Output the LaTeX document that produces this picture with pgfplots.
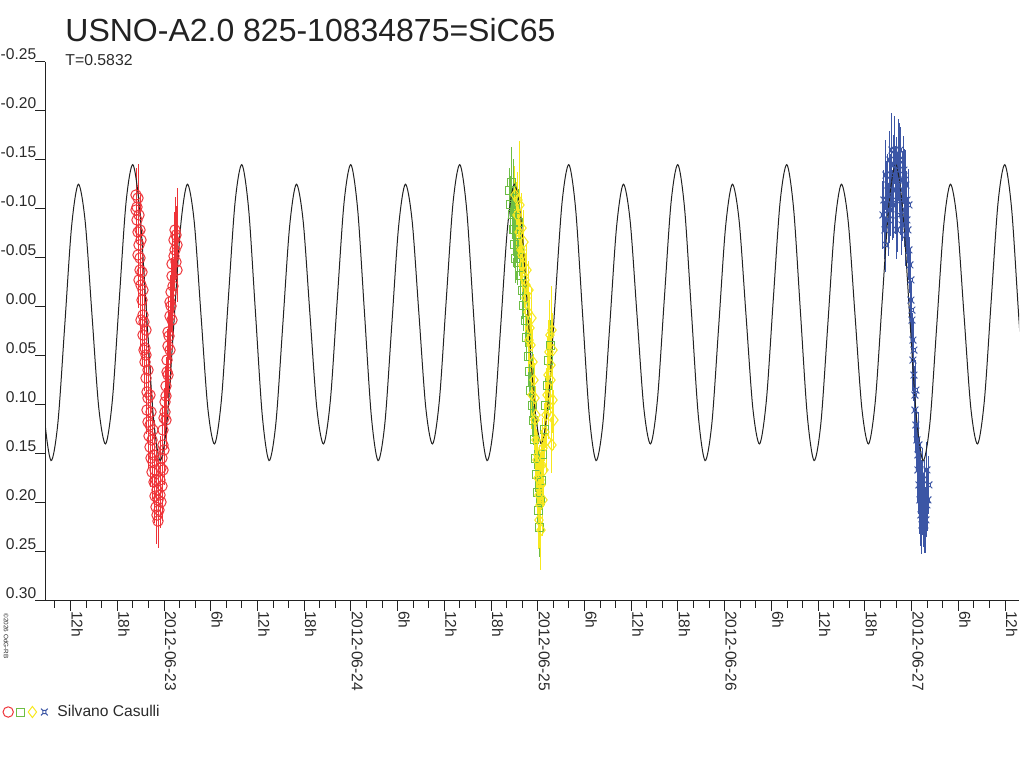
\documentclass[border=0pt]{standalone}
\usepackage{pgfplots}
\usepackage{pgfplotstable}
\pgfplotsset{compat=1.18}
\usepackage{fontspec}
\setmainfont{Liberation Sans}
\definecolor{cred}{HTML}{EE3338}
\definecolor{cgreen}{HTML}{6DBE45}
\definecolor{cyellow}{HTML}{F7E81E}
\definecolor{cblue}{HTML}{3C56A5}
\definecolor{axcol}{HTML}{222222}
\definecolor{labcol}{HTML}{2A2A2A}
\pgfdeclareplotmark{curr}{%
  \pgfpathrectangle{\pgfqpoint{-0.45\pgfplotmarksize}{-0.45\pgfplotmarksize}}{\pgfqpoint{0.9\pgfplotmarksize}{0.9\pgfplotmarksize}}%
  \pgfpathmoveto{\pgfqpoint{0.45\pgfplotmarksize}{0.45\pgfplotmarksize}}\pgfpathlineto{\pgfqpoint{\pgfplotmarksize}{\pgfplotmarksize}}%
  \pgfpathmoveto{\pgfqpoint{-0.45\pgfplotmarksize}{0.45\pgfplotmarksize}}\pgfpathlineto{\pgfqpoint{-\pgfplotmarksize}{\pgfplotmarksize}}%
  \pgfpathmoveto{\pgfqpoint{0.45\pgfplotmarksize}{-0.45\pgfplotmarksize}}\pgfpathlineto{\pgfqpoint{\pgfplotmarksize}{-\pgfplotmarksize}}%
  \pgfpathmoveto{\pgfqpoint{-0.45\pgfplotmarksize}{-0.45\pgfplotmarksize}}\pgfpathlineto{\pgfqpoint{-\pgfplotmarksize}{-\pgfplotmarksize}}%
  \pgfusepathqstroke}

\pgfplotstableread{
x y
-0.6771 0.0057
-0.6407 0.1110
-0.6042 0.1570
-0.5678 0.1187
-0.5313 0.0198
-0.4949 -0.0810
-0.4584 -0.1250
-0.4220 -0.0875
-0.3855 0.0078
-0.3491 0.1030
-0.3126 0.1400
-0.2762 0.0953
-0.2397 -0.0063
-0.2033 -0.1060
-0.1668 -0.1450
-0.1304 -0.0995
-0.0939 0.0057
-0.0575 0.1110
-0.0210 0.1570
0.0155 0.1187
0.0519 0.0198
0.0884 -0.0810
0.1248 -0.1250
0.1613 -0.0875
0.1977 0.0078
0.2342 0.1030
0.2706 0.1400
0.3071 0.0953
0.3435 -0.0063
0.3800 -0.1060
0.4164 -0.1450
0.4529 -0.0995
0.4893 0.0057
0.5258 0.1110
0.5622 0.1570
0.5987 0.1187
0.6351 0.0198
0.6716 -0.0810
0.7080 -0.1250
0.7445 -0.0875
0.7809 0.0078
0.8174 0.1030
0.8538 0.1400
0.8903 0.0953
0.9267 -0.0063
0.9632 -0.1060
0.9996 -0.1450
1.0361 -0.0995
1.0725 0.0057
1.1090 0.1110
1.1454 0.1570
1.1819 0.1187
1.2183 0.0198
1.2548 -0.0810
1.2912 -0.1250
1.3277 -0.0875
1.3641 0.0078
1.4006 0.1030
1.4370 0.1400
1.4735 0.0953
1.5099 -0.0063
1.5464 -0.1060
1.5828 -0.1450
1.6193 -0.0995
1.6557 0.0057
1.6922 0.1110
1.7286 0.1570
1.7651 0.1187
1.8015 0.0198
1.8380 -0.0810
1.8744 -0.1250
1.9109 -0.0875
1.9473 0.0078
1.9838 0.1030
2.0202 0.1400
2.0567 0.0953
2.0931 -0.0063
2.1296 -0.1060
2.1660 -0.1450
2.2025 -0.0995
2.2389 0.0057
2.2754 0.1110
2.3118 0.1570
2.3483 0.1187
2.3847 0.0198
2.4212 -0.0810
2.4576 -0.1250
2.4941 -0.0875
2.5305 0.0078
2.5670 0.1030
2.6034 0.1400
2.6399 0.0953
2.6763 -0.0063
2.7128 -0.1060
2.7492 -0.1450
2.7857 -0.0995
2.8221 0.0057
2.8586 0.1110
2.8950 0.1570
2.9315 0.1187
2.9679 0.0198
3.0044 -0.0810
3.0408 -0.1250
3.0773 -0.0875
3.1137 0.0078
3.1502 0.1030
3.1866 0.1400
3.2231 0.0953
3.2595 -0.0063
3.2960 -0.1060
3.3324 -0.1450
3.3689 -0.0995
3.4053 0.0057
3.4418 0.1110
3.4782 0.1570
3.5147 0.1187
3.5511 0.0198
3.5876 -0.0810
3.6240 -0.1250
3.6605 -0.0875
3.6969 0.0078
3.7334 0.1030
3.7698 0.1400
3.8063 0.0953
3.8427 -0.0063
3.8792 -0.1060
3.9156 -0.1450
3.9521 -0.0995
3.9885 0.0057
4.0250 0.1110
4.0614 0.1570
4.0979 0.1187
4.1343 0.0198
4.1708 -0.0810
4.2072 -0.1250
4.2437 -0.0875
4.2801 0.0078
4.3166 0.1030
4.3530 0.1400
4.3895 0.0953
4.4259 -0.0063
4.4624 -0.1060
4.4988 -0.1450
4.5353 -0.0995
4.5717 0.0057
4.6082 0.1110
}\modeltab

\pgfplotstableread{
x y e
-0.1498 -0.1140 0.028
-0.1498 -0.0987 0.031
-0.1445 -0.1017 0.035
-0.1445 -0.0885 0.022
-0.1391 -0.1109 0.030
-0.1391 -0.0762 0.025
-0.1391 -0.0528 0.033
-0.1338 -0.0630 0.033
-0.1338 -0.0936 0.052
-0.1338 -0.0273 0.029
-0.1284 -0.0497 0.027
-0.1284 -0.0374 0.031
-0.1284 -0.0783 0.036
-0.1231 -0.0681 0.036
-0.1231 -0.0221 0.024
-0.1231 0.0136 0.032
-0.1177 -0.0068 0.029
-0.1177 -0.0354 0.034
-0.1124 0.0085 0.026
-0.1124 0.0289 0.032
-0.1124 -0.0170 0.030
-0.1070 0.0156 0.038
-0.1070 0.0442 0.028
-0.1017 0.0421 0.025
-0.1017 0.0564 0.030
-0.0963 0.0728 0.027
-0.0963 0.0493 0.035
-0.0963 0.0238 0.031
-0.0910 0.0870 0.031
-0.0910 0.1054 0.024
-0.0856 0.0932 0.036
-0.0856 0.1177 0.028
-0.0856 0.0646 0.033
-0.0803 0.1319 0.033
-0.0749 0.1432 0.026
-0.0749 0.1207 0.039
-0.0749 0.0901 0.030
-0.0696 0.1544 0.030
-0.0696 0.1074 0.035
-0.0642 0.1360 0.034
-0.0642 0.1687 0.027
-0.0589 0.1585 0.037
-0.0589 0.1258 0.031
-0.0535 0.1789 0.032
-0.0535 0.1513 0.036
-0.0482 0.1932 0.028
-0.0482 0.1667 0.040
-0.0428 0.2044 0.033
-0.0428 0.1768 0.037
-0.0375 0.1870 0.036
-0.0375 0.2126 0.030
-0.0321 0.1973 0.042
-0.0321 0.2187 0.028
-0.0268 0.2075 0.035
-0.0214 0.1921 0.031
-0.0214 0.1769 0.038
-0.0161 0.1993 0.027
-0.0161 0.1646 0.033
-0.0107 0.1830 0.036
-0.0107 0.1544 0.029
-0.0054 0.1411 0.034
-0.0054 0.1258 0.026
-0.0054 0.1666 0.032
0.0000 0.1136 0.031
0.0000 0.1462 0.036
0.0054 0.0972 0.037
0.0054 0.1074 0.025
0.0107 0.0809 0.030
0.0107 0.0911 0.034
0.0107 0.1156 0.029
0.0161 0.0666 0.027
0.0161 0.0544 0.032
0.0214 0.0401 0.029
0.0214 0.0258 0.036
0.0214 0.0697 0.031
0.0268 0.0299 0.024
0.0321 0.0095 0.031
0.0321 -0.0048 0.028
0.0321 0.0442 0.034
0.0375 -0.0150 0.035
0.0375 -0.0007 0.026
0.0428 -0.0313 0.030
0.0428 -0.0436 0.033
0.0428 0.0136 0.027
0.0482 -0.0211 0.027
0.0535 -0.0517 0.036
0.0535 -0.0681 0.029
0.0589 -0.0579 0.031
0.0589 -0.0783 0.034
0.0642 -0.0456 0.025
0.0642 -0.0732 0.030
0.0696 -0.0630 0.058
0.0696 -0.0374 0.032
}\redtab

\pgfplotstableread{
x y e
1.8511 -0.1191 0.022
1.8565 -0.1038 0.030
1.8618 -0.1272 0.036
1.8672 -0.0936 0.025
1.8725 -0.1109 0.040
1.8725 -0.0783 0.027
1.8779 -0.0630 0.024
1.8832 -0.0987 0.031
1.8832 -0.0497 0.026
1.8886 -0.0732 0.029
1.8939 -0.0456 0.023
1.8993 -0.0864 0.034
1.9046 -0.0579 0.027
1.9100 -0.0323 0.025
1.9207 -0.0170 0.030
1.9260 -0.0017 0.026
1.9367 0.0136 0.028
1.9421 0.0319 0.024
1.9528 0.0503 0.031
1.9581 0.0666 0.027
1.9635 0.0850 0.029
1.9742 0.1003 0.033
1.9795 0.1156 0.026
1.9849 0.1360 0.030
1.9902 0.1544 0.035
1.9956 0.1717 0.028
2.0009 0.1891 0.032
2.0063 0.2075 0.036
2.0116 0.2258 0.030
2.0170 0.1973 0.027
2.0223 0.1769 0.031
2.0277 0.1503 0.028
2.0384 0.1258 0.025
2.0437 0.1003 0.030
2.0544 0.0799 0.027
2.0598 0.0544 0.029
2.0705 0.0391 0.026
}\greentab

\pgfplotstableread{
x y e
1.8779 -0.1140 0.030
1.8886 -0.0936 0.034
1.8939 -0.1089 0.029
1.8993 -0.0762 0.028
1.9046 -0.1038 0.065
1.9100 -0.0579 0.031
1.9153 -0.0803 0.036
1.9153 -0.0528 0.030
1.9207 -0.0425 0.027
1.9260 -0.0660 0.033
1.9314 -0.0272 0.029
1.9367 -0.0089 0.035
1.9367 -0.0221 0.031
1.9421 -0.0374 0.026
1.9474 0.0054 0.032
1.9528 -0.0170 0.030
1.9528 0.0340 0.033
1.9581 0.0217 0.037
1.9635 0.0391 0.028
1.9688 0.0115 0.031
1.9688 0.0901 0.035
1.9742 0.0564 0.034
1.9795 0.0748 0.027
1.9849 0.0932 0.036
1.9849 0.1156 0.031
1.9902 0.1105 0.030
1.9902 0.1360 0.038
1.9956 0.1564 0.032
2.0009 0.1748 0.040
2.0009 0.1513 0.034
2.0063 0.1922 0.035
2.0063 0.2177 0.030
2.0116 0.2024 0.044
2.0116 0.1768 0.036
2.0170 0.1820 0.033
2.0170 0.2279 0.041
2.0223 0.1615 0.036
2.0277 0.1442 0.031
2.0277 0.1972 0.037
2.0330 0.1666 0.038
2.0384 0.1279 0.030
2.0437 0.1105 0.034
2.0491 0.0901 0.028
2.0491 0.1360 0.033
2.0544 0.0697 0.040
2.0598 0.0462 0.033
2.0598 0.1054 0.030
2.0651 0.0289 0.036
2.0705 0.0595 0.030
2.0705 0.0748 0.034
2.0758 0.0238 0.045
2.0812 0.0952 0.034
2.0812 0.0442 0.038
2.0865 0.1156 0.031
2.0758 0.1411 0.029
}\yellowtab

\pgfplotstableread{
x y e
3.8467 -0.0936 0.035
3.8520 -0.1089 0.031
3.8574 -0.0783 0.030
3.8627 -0.0630 0.028
3.8627 -0.1344 0.036
3.8681 -0.1089 0.040
3.8734 -0.1242 0.032
3.8788 -0.0885 0.037
3.8841 -0.1497 0.030
3.8841 -0.0987 0.034
3.8895 -0.1140 0.042
3.8948 -0.1344 0.033
3.8948 -0.1599 0.038
3.9002 -0.1038 0.036
3.9055 -0.1446 0.031
3.9055 -0.1089 0.039
3.9109 -0.1599 0.035
3.9162 -0.1191 0.045
3.9216 -0.1395 0.034
3.9216 -0.0783 0.030
3.9269 -0.0936 0.038
3.9269 -0.1242 0.033
3.9323 -0.1497 0.042
3.9376 -0.1293 0.033
3.9376 -0.1599 0.028
3.9430 -0.1089 0.036
3.9430 -0.1497 0.034
3.9483 -0.0834 0.031
3.9537 -0.1191 0.040
3.9537 -0.0936 0.027
3.9590 -0.1395 0.035
3.9644 -0.0987 0.038
3.9644 -0.1293 0.032
3.9697 -0.0732 0.032
3.9697 -0.1242 0.036
3.9751 -0.1089 0.030
3.9751 -0.0885 0.035
3.9804 -0.0783 0.034
3.9858 -0.0579 0.031
3.9858 -0.1038 0.037
3.9911 -0.0426 0.029
3.9965 -0.0273 0.033
3.9965 -0.0068 0.027
4.0018 0.0136 0.031
4.0018 0.0034 0.029
4.0072 0.0340 0.028
4.0072 0.0544 0.032
4.0125 0.0697 0.026
4.0125 0.0442 0.030
4.0179 0.0901 0.030
4.0179 0.1054 0.034
4.0232 0.1207 0.028
4.0232 0.0850 0.031
4.0286 0.1360 0.031
4.0339 0.1513 0.027
4.0339 0.1666 0.033
4.0393 0.1819 0.030
4.0393 0.1411 0.034
4.0446 0.1972 0.035
4.0446 0.1615 0.029
4.0500 0.2125 0.032
4.0500 0.1768 0.035
4.0553 0.1921 0.036
4.0553 0.2227 0.030
4.0607 0.1768 0.033
4.0607 0.2023 0.031
4.0660 0.2074 0.038
4.0714 0.1870 0.031
4.0714 0.2227 0.029
4.0767 0.2176 0.034
4.0821 0.1666 0.029
4.0821 0.2023 0.033
4.0874 0.1972 0.032
4.0928 0.1819 0.030
}\bluetab

\begin{document}
\begin{tikzpicture}
\path[use as bounding box] (0pt,0pt) rectangle (512pt,384pt);
\node[anchor=base west, inner sep=0pt, text=axcol, font=\fontsize{16}{19}\selectfont] at (32.5pt,363pt) {USNO-A2.0 825-10834875=SiC65};
\node[anchor=base west, inner sep=0pt, text=labcol, font=\fontsize{7.9}{9}\selectfont] at (32.5pt,351.5pt) {T=0.5832};
\node[rotate=-90, anchor=north west, inner sep=0pt, text=labcol, font=\fontsize{3.2}{4}\selectfont] at (4.5pt,77.5pt) {©2026 OdG-RB};
\begin{axis}[
  at={(22.5pt,83.65pt)}, anchor=south west,
  scale only axis, width=487pt, height=269.5pt,
  xmin=-0.6367, xmax=4.5746, ymin=-0.25, ymax=0.30,
  y dir=reverse,
  axis x line*=bottom, axis y line*=left,
  axis line style={-, line width=0.5pt, color=axcol},
  every tick/.style={line width=0.5pt, color=axcol},
  tick align=outside,
  major tick length=5pt, minor tick length=3.5pt,
  xtick={-0.5,-0.25,0,0.25,0.5,0.75,1,1.25,1.5,1.75,2,2.25,2.5,2.75,3,3.25,3.5,3.75,4,4.25,4.5},
  xticklabels={12h,18h,2012-06-23,6h,12h,18h,2012-06-24,6h,12h,18h,2012-06-25,6h,12h,18h,2012-06-26,6h,12h,18h,2012-06-27,6h,12h},
  minor xtick={-0.58333,-0.41667,-0.33333,-0.16667,-0.08333,0.08333,0.16667,0.33333,0.41667,0.58333,0.66667,0.83333,0.91667,1.08333,1.16667,1.33333,1.41667,1.58333,1.66667,1.83333,1.91667,2.08333,2.16667,2.33333,2.41667,2.58333,2.66667,2.83333,2.91667,3.08333,3.16667,3.33333,3.41667,3.58333,3.66667,3.83333,3.91667,4.08333,4.16667,4.33333,4.41667},
  ytick={-0.25,-0.2,-0.15,-0.1,-0.05,0,0.05,0.1,0.15,0.2,0.25,0.3},
  yticklabels={-0.25,-0.20,-0.15,-0.10,-0.05,0.00,0.05,0.10,0.15,0.20,0.25,0.30},
  tick label style={font=\fontsize{7.8}{9}\selectfont, text=labcol},
  xticklabel style={xshift=0.5pt, rotate=-90, anchor=base west, inner sep=0pt},
  yticklabel style={anchor=base east, inner sep=0pt, yshift=1pt, xshift=0.8pt},
  legend style={at={(-0.04312,-0.2065)}, anchor=west, draw=none, fill=none,
    inner sep=0pt, outer sep=0pt, font=\fontsize{7.8}{9}\selectfont, text=labcol,
    nodes={inner sep=0pt},
    /tikz/every even column/.style={column sep=0pt},
    /tikz/every odd column/.style={column sep=0pt}},
  legend columns=-1,
  legend image code/.code={\path[draw=none,fill=none] (0pt,0pt) -- (5pt,0pt); \draw[#1] plot coordinates {(2.5pt,0pt)};},
  clip=true,
]
\addplot[only marks, mark=o, mark size=2.6pt, color=cred, line width=0.5pt,
  error bars/.cd, y dir=both, y explicit, error mark=none,
  error bar style={line width=0.5pt, color=cred}] table[x=x, y=y, y error=e] {\redtab};
\addlegendentry{}
\addplot[only marks, mark=square, mark size=2pt, color=cgreen, line width=0.5pt,
  error bars/.cd, y dir=both, y explicit, error mark=none,
  error bar style={line width=0.5pt, color=cgreen}] table[x=x, y=y, y error=e] {\greentab};
\addlegendentry{}
\addplot[only marks, mark=diamond, mark size=2.8pt, color=cyellow, line width=0.5pt,
  error bars/.cd, y dir=both, y explicit, error mark=none,
  error bar style={line width=0.5pt, color=cyellow}] table[x=x, y=y, y error=e] {\yellowtab};
\addlegendentry{}
\addplot[only marks, mark=curr, mark size=1.7pt, color=cblue, line width=0.5pt,
  error bars/.cd, y dir=both, y explicit, error mark=none,
  error bar style={line width=0.5pt, color=cblue}] table[x=x, y=y, y error=e] {\bluetab};
\addlegendentry{\hspace{4pt}Silvano Casulli}
\addplot[forget plot, smooth, no marks, color=axcol, line width=0.5pt] table[x=x, y=y] {\modeltab};
\end{axis}
\end{tikzpicture}
\end{document}
